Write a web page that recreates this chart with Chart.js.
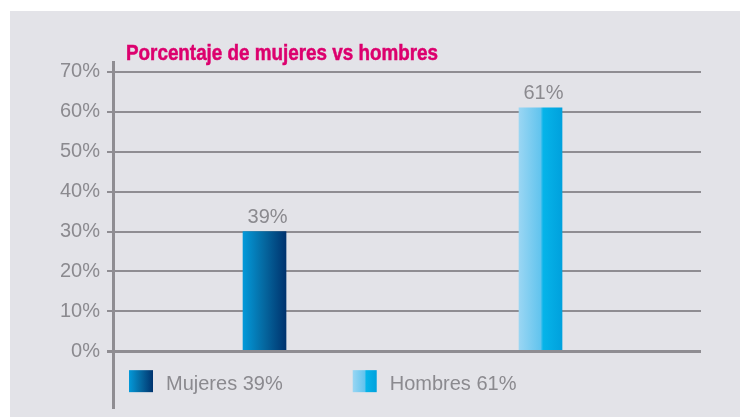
<!DOCTYPE html>
<html><head><meta charset="utf-8">
<script src="https://cdn.jsdelivr.net/npm/chart.js@4.4.0/dist/chart.umd.min.js"></script>
<style>
html,body{margin:0;padding:0;background:#fff;width:740px;height:417px;overflow:hidden}
#panel{position:absolute;left:10px;top:11px;width:730px;height:406px;background:#e3e3e8}
canvas{position:absolute;left:0;top:0}
</style></head><body>
<div id="panel"></div>
<canvas id="c" width="740" height="417"></canvas>
<script>
const chartTitle = 'Porcentaje de mujeres vs hombres';
const categories = ['Mujeres', 'Hombres'];
const barValues = [30, 61];          // bar heights as drawn
const labelPercents = [39, 61];      // percentages printed in labels/legend
const yTickValues = [0, 10, 20, 30, 40, 50, 60, 70];
const yTickLabels = ['0%', '10%', '20%', '30%', '40%', '50%', '60%', '70%'];

const gradientStops = [
  [[0, '#0399d9'], [0.5, '#05679f'], [1, '#00336e']],
  [[0, '#9ad6f3'], [0.5, '#62c4ee'], [0.56, '#06b4e9'], [1, '#00a1dd']]
];
const solidColors = ['#05679f', '#06b4e9'];

const textGray = '#8b8a8f';
const gridGray = '#8f8d92';
const FONT = '"Liberation Sans", Arial, sans-serif';

function makeGradient(ctx, x0, x1, stops) {
  const g = ctx.createLinearGradient(x0, 0, x1, 0);
  stops.forEach(s => g.addColorStop(s[0], s[1]));
  return g;
}

const BAR_W = 43;
const TITLE_WIDTH = 312;

const decorPlugin = {
  id: 'decor',
  afterDatasetsDraw(chart) {
    const ctx = chart.ctx;
    const meta = chart.getDatasetMeta(0);
    ctx.save();
    ctx.font = '20px ' + FONT;
    ctx.fillStyle = textGray;
    ctx.textAlign = 'center';
    ctx.textBaseline = 'alphabetic';
    meta.data.forEach((bar, i) => {
      ctx.fillText(labelPercents[i] + '%', bar.x + 3, bar.y - 9);
    });
    ctx.restore();
  },
  afterDraw(chart) {
    const ctx = chart.ctx;
    const area = chart.chartArea;
    const y0 = chart.scales.y.getPixelForValue(0);
    ctx.save();
    // title (condensed bold)
    ctx.font = 'bold 22px ' + FONT;
    ctx.fillStyle = '#dc006e';
    ctx.textAlign = 'left';
    ctx.textBaseline = 'alphabetic';
    const w = ctx.measureText(chartTitle).width;
    const sx = TITLE_WIDTH / w;
    ctx.translate(area.left + 13, area.top - 2);
    ctx.scale(sx, 1);
    ctx.fillText(chartTitle, 0, 0);
    ctx.lineWidth = 0.5;
    ctx.strokeStyle = '#dc006e';
    ctx.strokeText(chartTitle, 0, 0);
    ctx.restore();
    // legend
    ctx.save();
    ctx.font = '20px ' + FONT;
    ctx.textAlign = 'left';
    ctx.textBaseline = 'alphabetic';
    let x = area.left + 16;
    categories.forEach((cat, i) => {
      const boxTop = y0 + 19;
      ctx.fillStyle = makeGradient(ctx, x, x + 24, gradientStops[i]);
      ctx.fillRect(x, boxTop, 24, 22);
      const txt = cat + ' ' + labelPercents[i] + '%';
      ctx.fillStyle = textGray;
      ctx.fillText(txt, x + 37, y0 + 39);
      x += 37 + ctx.measureText(txt).width + 70;
    });
    ctx.restore();
  }
};

new Chart(document.getElementById('c'), {
  type: 'bar',
  data: {
    labels: categories,
    datasets: [{
      label: 'Porcentaje',
      data: barValues.map((v, i) => ({ x: i, y: v })),
      barThickness: BAR_W,
      borderWidth: 0,
      backgroundColor: (c) => {
        const chart = c.chart;
        if (!chart.chartArea || c.type !== 'data') return solidColors[c.dataIndex] || solidColors[0];
        const cx = chart.scales.x.getPixelForValue(c.dataIndex);
        return makeGradient(chart.ctx, cx - BAR_W / 2, cx + BAR_W / 2, gradientStops[c.dataIndex]);
      }
    }]
  },
  options: {
    responsive: false,
    animation: false,
    layout: { padding: { left: 0, top: 62, right: 39, bottom: 10 } },
    plugins: { legend: { display: false }, tooltip: { enabled: false }, title: { display: false } },
    scales: {
      x: {
        type: 'linear',
        offset: false,
        min: -0.549,
        max: 1.5815,
        display: false
      },
      y: {
        min: -14,
        max: 72.5,
        afterBuildTicks: (scale) => { scale.ticks = yTickValues.map(v => ({ value: v })); },
        afterFit: (scale) => { scale.width = 113; scale.paddingTop = 0; scale.paddingBottom = 0; },
        ticks: {
          padding: 7,
          color: textGray,
          font: { family: FONT, size: 20 },
          callback: (v) => yTickLabels[yTickValues.indexOf(v)]
        },
        grid: {
          color: gridGray,
          lineWidth: (c) => (c.tick && c.tick.value === 0 ? 3 : 2),
          tickLength: 6,
          drawTicks: true
        },
        border: { display: true, color: gridGray, width: 3 }
      }
    }
  },
  plugins: [decorPlugin]
});
</script>
</body></html>
